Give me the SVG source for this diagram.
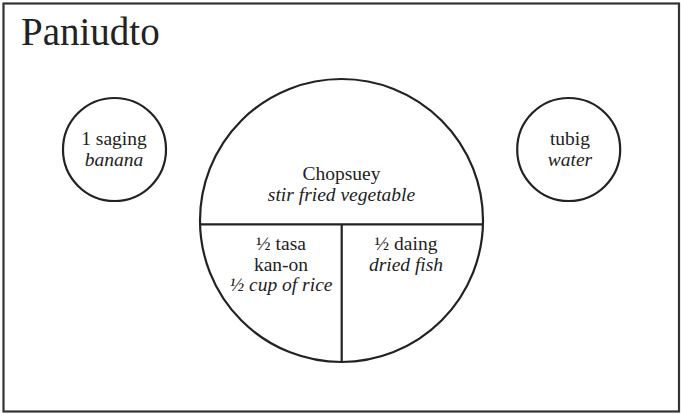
<svg xmlns="http://www.w3.org/2000/svg" width="681" height="414" viewBox="0 0 681 414">
<style>
.s{fill:none;stroke:#222;stroke-width:2.2}
text{font-family:"Liberation Serif","DejaVu Serif",serif;font-size:19.5px;fill:#222;text-anchor:middle}
.i{font-style:italic}
</style>
<rect x="0" y="0" width="681" height="414" fill="#fff"/>
<rect x="3.5" y="3.5" width="675.5" height="408" fill="none" stroke="#333" stroke-width="2.2"/>
<text x="21" y="45" style="font-size:39px;text-anchor:start">Paniudto</text>
<g id="banana">
<circle class="s" cx="114.5" cy="149.5" r="51.5"/>
<text x="114" y="145">1 saging</text>
<text class="i" x="114" y="166">banana</text>
</g>
<g id="water">
<circle class="s" cx="568.7" cy="149.5" r="51.5"/>
<text x="570" y="145">tubig</text>
<text class="i" x="570" y="166">water</text>
</g>
<g id="plate">
<circle class="s" cx="341.5" cy="220.5" r="141.5"/>
<line class="s" x1="200" y1="224.3" x2="483" y2="224.3"/>
<line class="s" x1="341.7" y1="224.3" x2="341.7" y2="362"/>
</g>
<g id="chopsuey">
<text x="341.5" y="180">Chopsuey</text>
<text class="i" x="341.5" y="200.5">stir fried vegetable</text>
</g>
<g id="rice">
<text x="281" y="250">½ tasa</text>
<text x="281" y="270.5">kan-on</text>
<text class="i" x="281" y="291">½ cup of rice</text>
</g>
<g id="fish">
<text x="406" y="250">½ daing</text>
<text class="i" x="406" y="270.5">dried fish</text>
</g>
<g id="connectors"></g>
</svg>
